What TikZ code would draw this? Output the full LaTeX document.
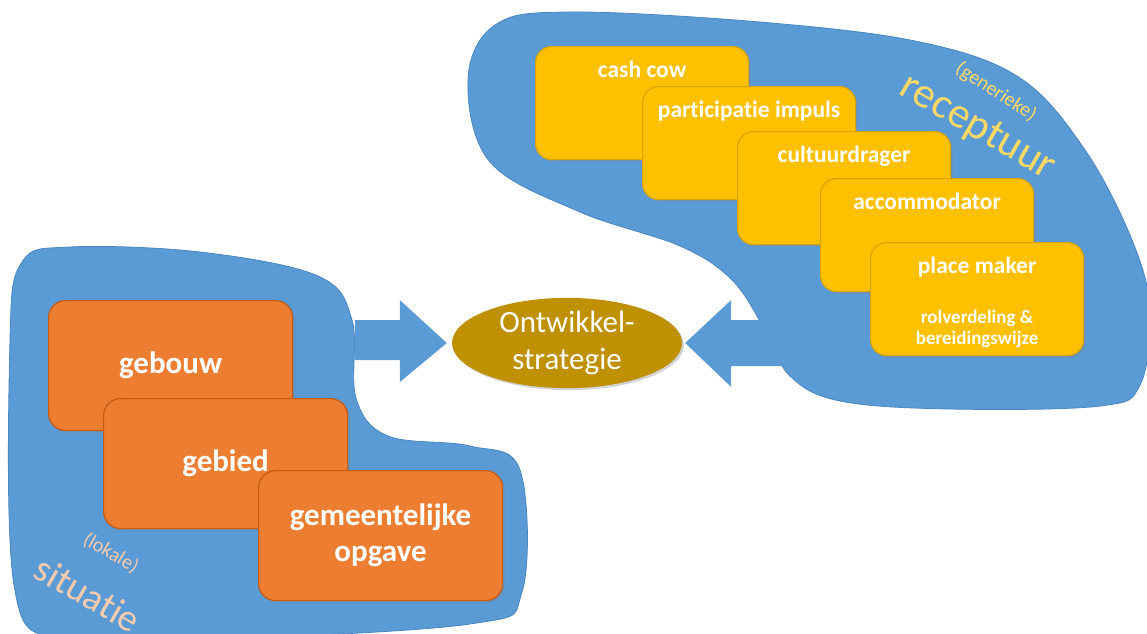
\documentclass[tikz,border=0pt]{standalone}
\usepackage{fontspec}
\setmainfont{Carlito}[Ligatures=NoCommon]
\usetikzlibrary{positioning,shadows,shapes.geometric}
\definecolor{blobblue}{HTML}{5B9BD5}
\definecolor{blobline}{HTML}{4A86C0}
\definecolor{boxorange}{HTML}{ED7D31}
\definecolor{lineorange}{HTML}{C55A11}
\definecolor{boxyellow}{HTML}{FFC000}
\definecolor{lineyellow}{HTML}{D9A300}
\definecolor{strategold}{HTML}{BF9000}
\definecolor{lbllocal}{HTML}{F8CBAD}
\definecolor{lblgeneric}{HTML}{FFD966}
\tikzset{
  blob/.style={fill=blobblue, draw=blobline, line width=0.8pt},
  obox/.style={draw=lineorange, fill=boxorange, line width=1.2pt, rounded corners=17pt,
    minimum width=244pt, minimum height=130pt, anchor=north west, text=white,
    font=\fontsize{31}{36}\selectfont\bfseries, align=center,
    drop shadow={opacity=0.35, shadow xshift=2pt, shadow yshift=-2pt}},
  ybox/.style={draw=lineyellow, fill=boxyellow, line width=1.2pt, rounded corners=16pt,
    minimum width=213pt, minimum height=113pt, anchor=north west,
    drop shadow={opacity=0.35, shadow xshift=2pt, shadow yshift=-2pt}},
  ytext/.style={text=white, font=\fontsize{23.5}{26}\selectfont\bfseries, inner sep=0pt},
}
\begin{document}
\begin{tikzpicture}[x=1pt, y=-1pt]
\useasboundingbox (0,0) rectangle (1147,633);
\clip (0,0) rectangle (1147,633);
%Situatie
\filldraw[blob] plot[smooth cycle, tension=0.6] coordinates {
  (22,262) (70,247) (200,252) (318,276) (352,320) (356,398) (388,436)
  (470,446) (520,470) (522,592) (470,624) (200,640) (60,640) (14,585) (10,340)};
%Receptuur
\filldraw[blob] plot[smooth cycle, tension=0.6] coordinates {
  (468,80) (495,25) (570,12) (760,22) (920,42) (1020,78) (1085,150) (1132,240)
  (1150,310) (1140,385) (1100,406) (950,409) (840,401) (790,376) (765,330)
  (732,280) (680,246) (580,212) (490,162)};
%Strategie
\node[ellipse, fill=strategold, minimum width=230pt, minimum height=90pt, text=white,
  align=center, font=\fontsize{31}{37}\selectfont, inner sep=0pt,
  drop shadow={opacity=0.35, shadow xshift=2pt, shadow yshift=-2pt}] (strat) at (567,343)
  {Ontwikkel-\\strategie};
\fill[blobblue] (strat.west) ++(-5,0) -- ++(-47,-43) -- ++(0,20) -- ++(-45,0)
  -- ++(0,40) -- ++(45,0) -- ++(0,22) -- cycle;
\fill[blobblue] (strat.east) ++(3,0) -- ++(46,-43) -- ++(0,20) -- ++(50,0)
  -- ++(0,46) -- ++(-50,0) -- ++(0,21) -- cycle;
%Depth 0
\node[obox] (gebouw) at (48,300) {gebouw};
\node[obox] (gebied) at (103,398) {gebied};
\node[obox] (opgave) at (258,470) {gemeentelijke\\opgave};
%Depth 1
\node[ybox] (cash) at (535,46) {};
\node[ytext, below=15pt of cash.north] {cash cow};
\node[ybox] (impuls) at (642,86) {};
\node[ytext, below=15pt of impuls.north] {participatie impuls};
\node[ybox] (drager) at (737,131) {};
\node[ytext, below=15pt of drager.north] {cultuurdrager};
\node[ybox] (accom) at (820,178) {};
\node[ytext, below=15pt of accom.north] {accommodator};
\node[ybox] (maker) at (870,242) {};
\node[ytext, below=15pt of maker.north] {place maker};
\node[ytext, align=center, font=\fontsize{19}{21}\selectfont\bfseries,
  above=8pt of maker.south] {rolverdeling \&\\bereidingswijze};
%Labels
\node[text=lbllocal, rotate=-30, font=\fontsize{20}{24}\selectfont] (lokale) at (111,553) {(lokale)};
\node[text=lbllocal, rotate=-30, font=\fontsize{38}{40}\selectfont] (situatie) at (88,594) {situatie};
\node[text=lblgeneric, rotate=-33, font=\fontsize{20}{24}\selectfont] (generieke) at (996,92) {(generieke)};
\node[text=lblgeneric, rotate=-30, font=\fontsize{43}{46}\selectfont] (receptuur) at (977,128) {receptuur};
\end{tikzpicture}
\end{document}
